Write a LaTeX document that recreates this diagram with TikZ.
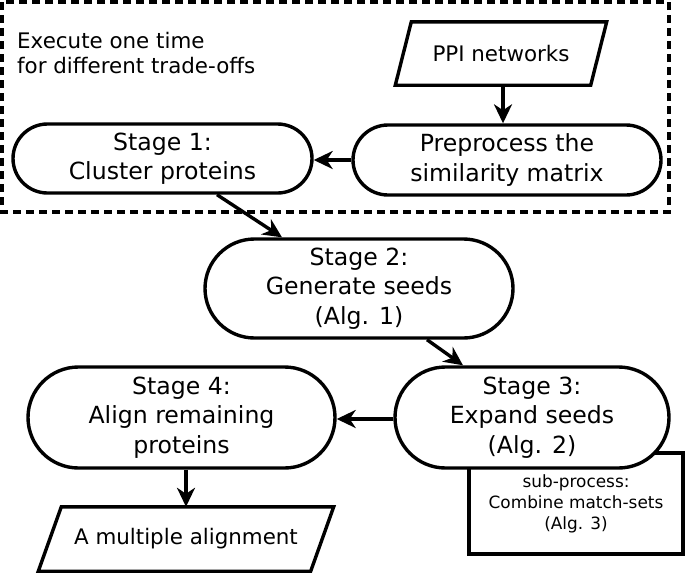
\documentclass[tikz,border=0pt]{standalone}
\usepackage{fontspec}
\setmainfont{DejaVu Sans}
\usetikzlibrary{shapes.misc,arrows.meta,calc}
\begin{document}
\begin{tikzpicture}[x=1pt,y=-1pt,
  stagefont/.style={font=\fontsize{23.6}{29.5}\selectfont},
  iofont/.style={font=\fontsize{21.4}{25.5}\selectfont},
  stadium/.style={rounded rectangle, draw, line width=3.4pt, fill=white, inner sep=0pt, align=center, stagefont},
  subbox/.style={rectangle, draw, line width=3.4pt, fill=white, inner sep=0pt, align=center, font=\fontsize{16.9}{21}\selectfont},
  iobox/.style={rectangle, inner sep=0pt, align=center, iofont},
  ioline/.style={line width=3.4pt, line join=miter},
  arr/.style={line width=3.4pt, -{Stealth[length=19pt,width=18pt,inset=6pt]}},
  dashbox/.style={line width=3.8pt, dash pattern=on 8pt off 5pt}]
\useasboundingbox (0,0) rectangle (685,573);
\fill[white] (0,0) rectangle (685,573);
% dashed region
\draw[dashbox] (2,2) rectangle (669,212);
\node[iofont, anchor=north west, align=left, inner sep=0pt] (note) at (17,32) {Execute one time\\for different trade-offs};
% PPI networks
\node[iobox, minimum width=195, minimum height=63] (ppi) at (501,53.5) {PPI networks};
\draw[ioline] ($(ppi.north west)+(8,0)$) -- ($(ppi.north east)+(8,0)$) -- ($(ppi.south east)+(-8,0)$) -- ($(ppi.south west)+(-8,0)$) -- cycle;
% stages
\node[stadium, minimum width=299, minimum height=69] (s1) at (162.5,158.5) {Stage 1:\\Cluster proteins};
\node[stadium, minimum width=308, minimum height=70] (pre) at (507,160) {Preprocess the\\similarity matrix};
\node[stadium, minimum width=308, minimum height=99] (s2) at (359,288.5) {Stage 2:\\Generate seeds\\(Alg. 1)};
\node[subbox, minimum width=214, minimum height=101] (sub) at (576,503.5) {sub-process:\\Combine match-sets\\(Alg. 3)};
\node[stadium, minimum width=274, minimum height=101] (s3) at (532,417.5) {Stage 3:\\Expand seeds\\(Alg. 2)};
\node[stadium, minimum width=307, minimum height=101] (s4) at (181.5,417.5) {Stage 4:\\Align remaining\\proteins};
% output
\node[iobox, minimum width=272, minimum height=64] (out) at (186,539) {A multiple alignment};
\draw[ioline] ($(out.north west)+(11.5,0)$) -- ($(out.north east)+(11.5,0)$) -- ($(out.south east)+(-11.5,0)$) -- ($(out.south west)+(-11.5,0)$) -- cycle;
% connectors
\draw[arr] ($(ppi.south)+(2,0)$) -- ($(ppi.south |- pre.north)+(2,0)$);
\draw[arr] (pre.west) -- (s1.east |- pre.west);
\draw[arr] ($(s1.south)+(54.5,0)$) -- ($(s2.north)+(-77,0)$);
\draw[arr] ($(s2.south)+(68,0)$) -- ($(s3.north)+(-69,0)$);
\draw[arr] ($(s3.west)+(0,1.5)$) -- ($(s4.east)+(0,1.5)$);
\draw[arr] (out.north |- s4.south) -- (out.north);
\end{tikzpicture}
\end{document}
